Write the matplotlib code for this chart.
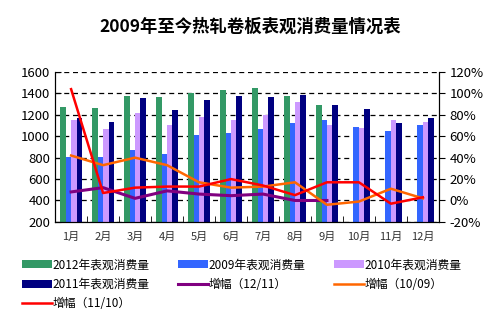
import numpy as np
import matplotlib.pyplot as plt

plt.rcParams['font.family'] = ['Noto Sans CJK SC', 'DejaVu Sans']

months = ['1月', '2月', '3月', '4月', '5月', '6月', '7月', '8月', '9月', '10月', '11月', '12月']
v2012 = [1270, 1260, 1380, 1365, 1400, 1430, 1450, 1375, 1290, np.nan, np.nan, np.nan]
v2009 = [805, 805, 870, 835, 1010, 1030, 1065, 1125, 1150, 1085, 1050, 1105]
v2010 = [1150, 1065, 1220, 1105, 1180, 1150, 1195, 1320, 1105, 1075, 1150, 1135]
v2011 = [1175, 1135, 1355, 1245, 1335, 1375, 1365, 1385, 1290, 1250, 1125, 1170]
g12_11 = [8, 12, 2, 9, 6, 4.5, 6, 0, 0, np.nan, np.nan, np.nan]
g10_09 = [42, 33, 40, 33, 17, 12, 13, 17, -4, -1, 11, 2]
g11_10 = [104, 7, 12, 13, 13, 20, 14, 5, 17, 17, -3, 3]

fig = plt.figure(figsize=(5.01, 3.23), dpi=100)
ax = fig.add_axes([0.110, 0.313, 0.766, 0.464])
ax2 = ax.twinx()

x = np.arange(len(months))
w = 0.17
bars = [(v2012, '#339966', '2012年表观消费量'),
        (v2009, '#3366FF', '2009年表观消费量'),
        (v2010, '#CC99FF', '2010年表观消费量'),
        (v2011, '#000080', '2011年表观消费量')]
handles = []
for i, (vals, c, lab) in enumerate(bars):
    h = ax.bar(x + (i - 1.5) * w, vals, w, color=c, label=lab, zorder=2)
    handles.append(h)

lines = [(g12_11, '#800080', '增幅（12/11）', 2.2),
         (g10_09, '#FF6600', '增幅（10/09）', 1.8),
         (g11_10, '#FF0000', '增幅（11/10）', 1.8)]
for vals, c, lab, lw in lines:
    h, = ax2.plot(x, vals, color=c, lw=lw, label=lab)
    handles.append(h)

ax.set_ylim(200, 1600)
ax.set_yticks(range(200, 1601, 200))
ax.set_xlim(-0.5, 11.5)
ax2.set_ylim(-20, 120)
ax2.set_yticks(range(-20, 121, 20))
ax2.set_yticklabels([f'{v}%' for v in range(-20, 121, 20)])
ax.set_xticks(x)
ax.set_xticklabels(months)
ax.set_xticks(np.arange(-0.5, 12, 1), minor=True)
ax.tick_params(axis='x', which='major', length=0, pad=7, labelsize=8, colors='#333333')
ax.tick_params(axis='x', which='minor', length=4, direction='in')
ax.tick_params(axis='y', labelsize=9.5, length=4, direction='in')
ax2.tick_params(axis='y', labelsize=9.5, length=4, direction='out')
for a in (ax, ax2):
    a.spines['top'].set_visible(False)
ax.yaxis.grid(True, linestyle=(0, (4, 3)), color='black', lw=0.9, zorder=0)
ax.set_axisbelow(True)

fig.suptitle('2009年至今热轧卷板表观消费量情况表', x=0.5, y=0.945,
             fontsize=12.5, fontweight='bold')

# legend is filled column by column, reorder so it reads row by row
order = [0, 3, 6, 1, 4, 2, 5]
fig.legend(handles=[handles[i] for i in order], loc='upper left',
           bbox_to_anchor=(0.035, 0.215),
           ncol=3, frameon=False, fontsize=8.5, handlelength=2.5,
           handleheight=0.7, columnspacing=2.4, labelspacing=0.55,
           handletextpad=0.1, borderaxespad=0)

fig.savefig('out.png', dpi=100)
